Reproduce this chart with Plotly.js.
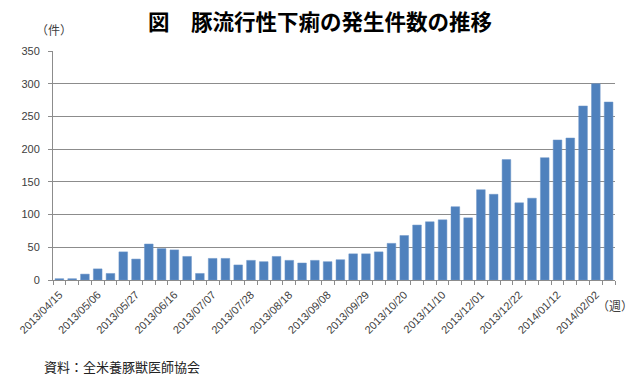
<!DOCTYPE html>
<html>
<head>
<meta charset="utf-8">
<script src="https://cdn.plot.ly/plotly-3.0.1.min.js"></script>
<style>
html,body{margin:0;padding:0;background:#fff;}
#chart{width:640px;height:387px;}
</style>
</head>
<body>
<div id="chart"></div>
<script>
// Weekly number of PED outbreaks (件), 44 weeks from 2013/04/15
var weekCounts = [2,2,9,17,10,43,32,55,48,46,36,10,33,33,23,30,28,36,30,26,30,28,31,40,40,43,56,68,84,89,92,112,95,138,131,184,118,125,187,214,217,266,300,272];
// Tick labels shown every third week
var tickLabels = ["2013/04/15","2013/05/06","2013/05/27","2013/06/16","2013/07/07","2013/07/28","2013/08/18","2013/09/08","2013/09/29","2013/10/20","2013/11/10","2013/12/01","2013/12/22","2014/01/12","2014/02/02"];
var tickWeekIndex = [0,3,6,9,12,15,18,21,24,27,30,33,36,39,42];
var yTicks = [0,50,100,150,200,250,300,350];

var weekIndex = weekCounts.map(function(_, i){ return i; });

var trace = {
  type: 'bar',
  x: weekIndex,
  y: weekCounts,
  marker: {color: '#4f81bd', line: {color: '#6f97c9', width: 0.5}},
  width: 0.68,
  hoverinfo: 'none'
};

var cjk = '"Noto Sans CJK JP", "Noto Sans", sans-serif';
var num = '"Liberation Sans", Arial, sans-serif';

var layout = {
  width: 640, height: 387,
  margin: {l: 53, r: 25, t: 50.5, b: 107},
  paper_bgcolor: '#ffffff',
  plot_bgcolor: '#ffffff',
  showlegend: false,
  bargap: 0.3,
  xaxis: {
    range: [-0.5, weekCounts.length - 0.5],
    tickmode: 'array',
    tickvals: tickWeekIndex,
    ticktext: tickLabels,
    tickangle: -45,
    ticks: '',
    tickfont: {family: num, size: 11, color: '#404040'},
    ticklabelstandoff: 3,
    showgrid: false,
    zeroline: false,
    showline: true,
    linecolor: '#8c8c8c',
    linewidth: 1,
    minor: {tickmode: 'linear', tick0: -0.5, dtick: 1, ticks: 'outside', ticklen: 4, tickcolor: '#8c8c8c', tickwidth: 1, showgrid: false},
    fixedrange: true
  },
  yaxis: {
    range: [0, 350],
    tickmode: 'array',
    tickvals: yTicks,
    ticktext: yTicks.map(String),
    ticks: 'outside',
    ticklen: 4,
    tickcolor: '#8c8c8c',
    tickfont: {family: num, size: 11, color: '#404040'},
    ticklabelstandoff: 6,
    showgrid: true,
    gridcolor: '#8c8c8c',
    gridwidth: 1,
    zeroline: false,
    showline: true,
    linecolor: '#8c8c8c',
    linewidth: 1,
    fixedrange: true
  },
  title: {
    text: '<b>図　豚流行性下痢の発生件数の推移</b>',
    font: {family: cjk, size: 21.5, color: '#000000'},
    x: 0.5, xref: 'container', xanchor: 'center',
    y: 1 - 22/387, yref: 'container', yanchor: 'middle'
  },
  annotations: [
    {text: '（件）', xref: 'paper', yref: 'paper', x: 0, y: 1, xshift: -19, yshift: 22, xanchor: 'left', yanchor: 'middle', showarrow: false, font: {family: cjk, size: 12, color: '#404040'}},
    {text: '（週）', xref: 'paper', yref: 'paper', x: 1, y: 0, xshift: 0, yshift: -25, xanchor: 'center', yanchor: 'middle', showarrow: false, font: {family: cjk, size: 12, color: '#404040'}},
    {text: '資料：全米養豚獣医師協会', xref: 'paper', yref: 'paper', x: 0, y: 0, xshift: -11, yshift: -86, xanchor: 'left', yanchor: 'middle', showarrow: false, font: {family: cjk, size: 13, color: '#222222'}}
  ]
};

Plotly.newPlot('chart', [trace], layout, {staticPlot: true, displayModeBar: false});
</script>
</body>
</html>
